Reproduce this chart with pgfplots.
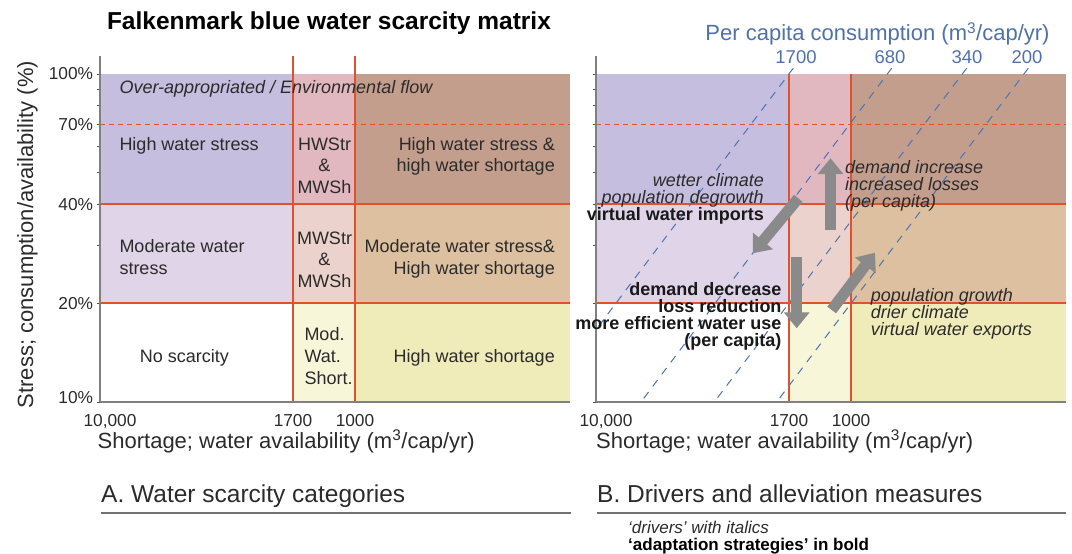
\documentclass[border=0pt]{standalone}
\usepackage{fontspec}
\setmainfont{Liberation Sans}
\usepackage{pgfplots}
\pgfplotsset{compat=1.18}
\usetikzlibrary{arrows.meta}
\definecolor{cA}{HTML}{C5BEDE}
\definecolor{cB}{HTML}{E2B8C0}
\definecolor{cC}{HTML}{C49E8D}
\definecolor{cD}{HTML}{E0D4E8}
\definecolor{cE}{HTML}{ECD2CC}
\definecolor{cF}{HTML}{DCC0A0}
\definecolor{cH}{HTML}{F8F6D8}
\definecolor{cI}{HTML}{F0ECBA}
\definecolor{cR}{HTML}{E2502C}
\definecolor{cBl}{HTML}{4B74B4}
\definecolor{cBt}{HTML}{4E71AE}
\definecolor{cG}{HTML}{8A8A8A}
\definecolor{cT}{HTML}{2B2B2B}
\newcommand\fs[1]{\fontsize{#1}{#1}\selectfont}
\tikzset{
  cell/.style={draw=none, fill=#1},
  bline/.style={draw=cBl, line width=1pt, dash pattern=on 8pt off 7pt},
  garrow/.style={draw=cG, line width=11pt, -{Triangle[width=25pt,length=16pt]}},
}
\begin{document}
\begin{tikzpicture}
\useasboundingbox (0pt,0pt) rectangle (1072pt,-554pt);
% ---------------- Panel A ----------------
\begin{axis}[at={(100pt,-402pt)}, anchor=south west,
    scale only axis, width=470pt, height=346pt,
    xmin=0, xmax=470, ymode=log, ymin=10, ymax=113.4,
    axis lines=left, axis line style={-, draw=black!50, line width=1.6pt},
    axis on top=true,
    ytick={10,20,40,70,100}, minor ytick={30,50,60,80,90},
    tick align=outside, major tick length=3pt, minor tick length=3pt,
    y tick style={draw=black!70, line width=0.8pt},
    x tick style={draw=none},
    xtick={10,193,255}, xticklabels={10{,}000,1700,1000},
    ticklabel style={font=\fs{17.3}, text=cT, inner sep=0pt},
    xticklabel style={anchor=north, yshift=-9.3pt},
    yticklabel style={anchor=east, xshift=-3.7pt},
    yticklabels={\raisebox{-1.2pt}[0pt][0pt]{10\%},20\%,40\%,70\%,100\%}]
\addplot[cell=white, forget plot] coordinates {(0,10) (193,10) (193,20) (0,20)} -- cycle;
\addplot[cell=cH, forget plot] coordinates {(193,10) (255,10) (255,20) (193,20)} -- cycle;
\addplot[cell=cI, forget plot] coordinates {(255,10) (470,10) (470,20) (255,20)} -- cycle;
\addplot[cell=cD, forget plot] coordinates {(0,20) (193,20) (193,40) (0,40)} -- cycle;
\addplot[cell=cE, forget plot] coordinates {(193,20) (255,20) (255,40) (193,40)} -- cycle;
\addplot[cell=cF, forget plot] coordinates {(255,20) (470,20) (470,40) (255,40)} -- cycle;
\addplot[cell=cA, forget plot] coordinates {(0,40) (193,40) (193,100) (0,100)} -- cycle;
\addplot[cell=cB, forget plot] coordinates {(193,40) (255,40) (255,100) (193,100)} -- cycle;
\addplot[cell=cC, forget plot] coordinates {(255,40) (470,40) (470,100) (255,100)} -- cycle;
\addplot[draw=cR, line width=2pt, forget plot] coordinates {(0,20) (470,20)};
\addplot[draw=cR, line width=2pt, forget plot] coordinates {(0,40) (470,40)};
\addplot[draw=cR, line width=1.5pt, dash pattern=on 5pt off 4pt, forget plot] coordinates {(0,70) (470,70)};
\addplot[draw=cR, line width=2pt, forget plot] coordinates {(193,10) (193,113.4)};
\addplot[draw=cR, line width=2pt, forget plot] coordinates {(255,10) (255,113.4)};
\end{axis}
% ---------------- Panel B ----------------
\begin{axis}[at={(596pt,-402pt)}, anchor=south west,
    scale only axis, width=470pt, height=346pt,
    xmin=0, xmax=470, ymode=log, ymin=10, ymax=113.4,
    axis lines=left, axis line style={-, draw=black!50, line width=1.6pt},
    axis on top=true,
    ytick={10,20,40,70,100}, minor ytick={30,50,60,80,90},
    tick align=outside, major tick length=3pt, minor tick length=3pt,
    y tick style={draw=black!70, line width=0.8pt},
    x tick style={draw=none},
    xtick={10,193,255}, xticklabels={10{,}000,1700,1000},
    ticklabel style={font=\fs{17.3}, text=cT, inner sep=0pt},
    xticklabel style={anchor=north, yshift=-9.3pt},
    yticklabels={}]
\addplot[cell=white, forget plot] coordinates {(0,10) (193,10) (193,20) (0,20)} -- cycle;
\addplot[cell=cH, forget plot] coordinates {(193,10) (255,10) (255,20) (193,20)} -- cycle;
\addplot[cell=cI, forget plot] coordinates {(255,10) (470,10) (470,20) (255,20)} -- cycle;
\addplot[cell=cD, forget plot] coordinates {(0,20) (193,20) (193,40) (0,40)} -- cycle;
\addplot[cell=cE, forget plot] coordinates {(193,20) (255,20) (255,40) (193,40)} -- cycle;
\addplot[cell=cF, forget plot] coordinates {(255,20) (470,20) (470,40) (255,40)} -- cycle;
\addplot[cell=cA, forget plot] coordinates {(0,40) (193,40) (193,100) (0,100)} -- cycle;
\addplot[cell=cB, forget plot] coordinates {(193,40) (255,40) (255,100) (193,100)} -- cycle;
\addplot[cell=cC, forget plot] coordinates {(255,40) (470,40) (470,100) (255,100)} -- cycle;
\addplot[draw=cR, line width=2pt, forget plot] coordinates {(0,20) (470,20)};
\addplot[draw=cR, line width=2pt, forget plot] coordinates {(0,40) (470,40)};
\addplot[draw=cR, line width=1.5pt, dash pattern=on 5pt off 4pt, forget plot] coordinates {(0,70) (470,70)};
\addplot[draw=cR, line width=2pt, forget plot] coordinates {(193,10) (193,100)};
\addplot[draw=cR, line width=2pt, forget plot] coordinates {(255,10) (255,100)};
% per-capita consumption lines
\addplot[bline, forget plot] coordinates {(197.3,104.1) (0,16.62)};
\addplot[bline, forget plot] coordinates {(295.7,104.1) (45,10)};
\addplot[bline, forget plot] coordinates {(370.7,104.1) (118.3,10)};
\addplot[bline, forget plot] coordinates {(432.3,104.1) (180.7,10)};
% arrows
\addplot[garrow, forget plot] coordinates {(202.3,41.78) (156.7,28.4)};
\addplot[garrow, forget plot] coordinates {(234.5,33.45) (234.5,55.34)};
\addplot[garrow, forget plot] coordinates {(200.7,27.73) (200.7,16.78)};
\addplot[garrow, forget plot] coordinates {(235.7,19.08) (279,28.52)};
\end{axis}
% ---------------- Texts ----------------
\begin{scope}[x=1pt,y=-1pt, every node/.style={inner sep=0pt, text=cT}]
\node[anchor=base, text=black] at (329,29.5) {\fs{24.5}\bfseries Falkenmark blue water scarcity matrix};
\node[anchor=base, rotate=90] at (33,234.5) {\fs{22}Stress; consumption/availability (\%)};
\node[anchor=base west] at (97.5,448.3) {\fs{22}Shortage; water availability (m\textsuperscript{3}/cap/yr)};
\node[anchor=base west] at (596,448.3) {\fs{22}Shortage; water availability (m\textsuperscript{3}/cap/yr)};
% panel A labels
\begin{scope}[every node/.append style={font=\fs{18}}]
\node[anchor=base west] at (119.3,93.5) {\itshape Over-appropriated / Environmental flow};
\node[anchor=base west] at (119.3,150) {High water stress};
\node[anchor=base] at (324.5,150) {HWStr};
\node[anchor=base] at (324.5,171.5) {\&};
\node[anchor=base] at (324.5,193.2) {MWSh};
\node[anchor=base east] at (555,150) {High water stress \&};
\node[anchor=base east] at (555,171.5) {high water shortage};
\node[anchor=base west] at (119.3,252.5) {Moderate water};
\node[anchor=base west] at (119.3,274.2) {stress};
\node[anchor=base] at (324.5,244.2) {MWStr};
\node[anchor=base] at (324.5,265.8) {\&};
\node[anchor=base] at (324.5,287.5) {MWSh};
\node[anchor=base east] at (555,252.5) {Moderate water stress\&};
\node[anchor=base east] at (555,274.2) {High water shortage};
\node[anchor=base] at (184.5,362.5) {No scarcity};
\node[anchor=base west] at (304.3,340.8) {Mod.};
\node[anchor=base west] at (304.3,362.5) {Wat.};
\node[anchor=base west] at (304.3,384.2) {Short.};
\node[anchor=base east] at (555,362.5) {High water shortage};
% panel B labels
\node[anchor=base east] at (764,186.5) {\itshape wetter climate};
\node[anchor=base east] at (764,203.6) {\itshape population degrowth};
\node[anchor=base east, text=black!90] at (764,220.8) {\bfseries virtual water imports};
\node[anchor=base west] at (845,173.8) {\itshape demand increase};
\node[anchor=base west] at (845,190.5) {\itshape increased losses};
\node[anchor=base west] at (845,207.2) {\itshape (per capita)};
\node[anchor=base east, text=black!90] at (781.7,295) {\bfseries demand decrease};
\node[anchor=base east, text=black!90] at (781.7,312) {\bfseries loss reduction};
\node[anchor=base east, text=black!90] at (781.7,329) {\bfseries more efficient water use};
\node[anchor=base east, text=black!90] at (781.7,346.5) {\bfseries (per capita)};
\node[anchor=base west] at (870.7,301.5) {\itshape population growth};
\node[anchor=base west] at (870.7,318.2) {\itshape drier climate};
\node[anchor=base west] at (870.7,335.5) {\itshape virtual water exports};
\end{scope}
% per capita consumption header
\node[anchor=base, text=cBt] at (877.5,41) {\fs{22}Per capita consumption (m\textsuperscript{3}/cap/yr)};
\begin{scope}[every node/.append style={font=\fs{18.5}, text=cBt, anchor=base}]
\node at (796,63.3) {1700};
\node at (890,63.3) {680};
\node at (967,63.3) {340};
\node at (1027,63.3) {200};
\end{scope}
% captions
\node[anchor=base west] at (101,502) {\fs{24.5}A. Water scarcity categories};
\node[anchor=base west] at (597,502) {\fs{24.5}B. Drivers and alleviation measures};
\draw[draw=black!55, line width=1.5pt] (101,513) -- (571,513);
\draw[draw=black!55, line width=1.5pt] (597,513) -- (1066,513);
\node[anchor=base west] at (628,533) {\fs{17}\itshape `drivers' with italics};
\node[anchor=base west, text=black] at (628,550) {\fs{17}\bfseries `adaptation strategies' in bold};
\end{scope}
\end{tikzpicture}
\end{document}
